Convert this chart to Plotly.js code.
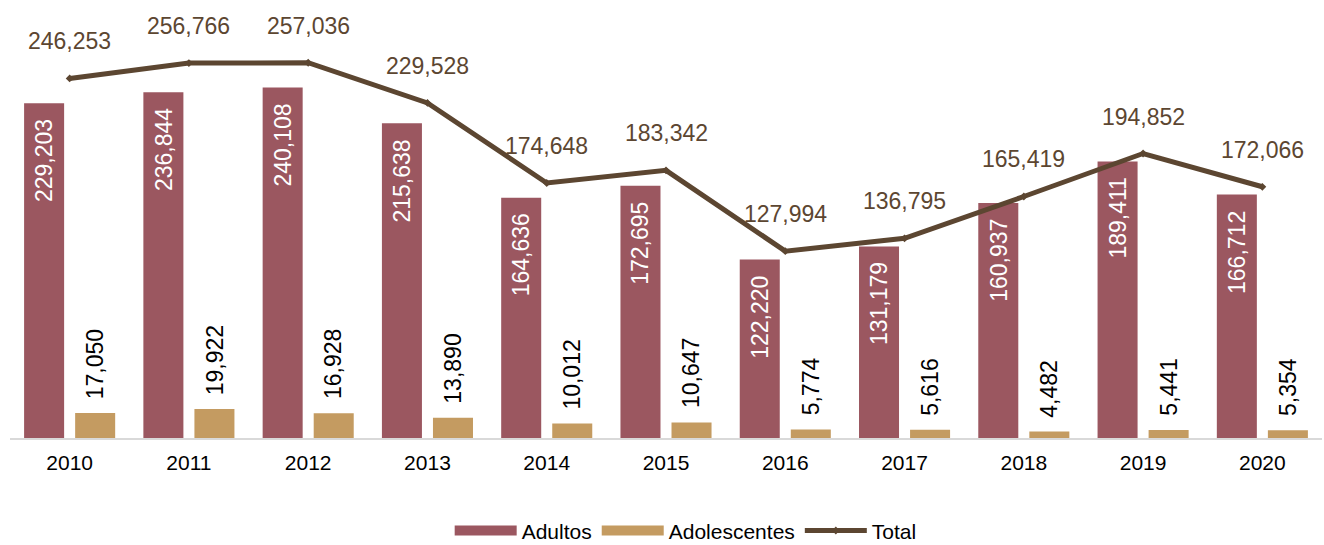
<!DOCTYPE html>
<html>
<head>
<meta charset="utf-8">
<script src="https://cdn.plot.ly/plotly-3.0.1.min.js"></script>
<style>html,body{margin:0;padding:0;background:#fff;}#chart{width:1324px;height:545px;}</style>
</head>
<body>
<div id="chart"></div>
<script>
const years = ['2010','2011','2012','2013','2014','2015','2016','2017','2018','2019','2020'];
const adultos = [229203,236844,240108,215638,164636,172695,122220,131179,160937,189411,166712];
const adolescentes = [17050,19922,16928,13890,10012,10647,5774,5616,4482,5441,5354];
const total = [246253,256766,257036,229528,174648,183342,127994,136795,165419,194852,172066];

const FONT = 'Liberation Sans, Arial, sans-serif';
const C_ADU = '#9B5760';
const C_ADO = '#C49B61';
const C_TOT = '#5C4631';
const fmt = v => v.toLocaleString('en-US');

const traces = [
  {type:'bar', name:'Adultos', legendgroup:'adu', showlegend:false, x:years, y:adultos, marker:{color:C_ADU}, hoverinfo:'x+y'},
  {type:'bar', name:'Adolescentes', legendgroup:'ado', showlegend:false, x:years, y:adolescentes, marker:{color:C_ADO}, hoverinfo:'x+y'},
  {type:'scatter', mode:'lines+markers', name:'Total', legendgroup:'tot', legendrank:3, x:years, y:total,
   line:{color:C_TOT, width:5}, marker:{symbol:'diamond', size:6, color:C_TOT}},
  // legend swatches (wide rectangles) for the bar series
  {type:'scatter', mode:'lines', name:'Adultos', legendgroup:'adu', legendrank:1, x:[null], y:[null], line:{color:C_ADU, width:11}, hoverinfo:'skip'},
  {type:'scatter', mode:'lines', name:'Adolescentes', legendgroup:'ado', legendrank:2, x:[null], y:[null], line:{color:C_ADO, width:11}, hoverinfo:'skip'}
];

// annotations on a category axis use the category serial number
const annotations = [];
years.forEach((yr,i)=>{
  annotations.push({x:i, y:adultos[i], xref:'x', yref:'y', text:fmt(adultos[i]), showarrow:false,
    textangle:-90, yanchor:'top', xanchor:'center', xshift:-25.5, yshift:-14,
    font:{family:FONT, size:23, color:'#ffffff'}});
  annotations.push({x:i, y:adolescentes[i], xref:'x', yref:'y', text:fmt(adolescentes[i]), showarrow:false,
    textangle:-90, yanchor:'bottom', xanchor:'center', xshift:25.5, yshift:12,
    font:{family:FONT, size:23, color:'#000000'}});
  annotations.push({x:i, y:total[i], xref:'x', yref:'y', text:fmt(total[i]), showarrow:false,
    yanchor:'middle', xanchor:'center', yshift:37,
    font:{family:FONT, size:23, color:C_TOT}});
});

const layout = {
  width:1324, height:545,
  margin:{l:10, r:2, t:0, b:107},
  paper_bgcolor:'#ffffff', plot_bgcolor:'#ffffff',
  barmode:'group', bargap:0.144, bargroupgap:0.216,
  font:{family:FONT, color:'#000'},
  xaxis:{type:'category', range:[-0.5,10.5], showgrid:false, zeroline:false, showline:true, linecolor:'#D9D9D9', linewidth:2,
    ticks:'', tickfont:{family:FONT, size:21, color:'#000'}, ticklabelstandoff:5, fixedrange:true, automargin:false},
  yaxis:{range:[0,300000], visible:false, showgrid:false, zeroline:false, fixedrange:true},
  showlegend:true,
  legend:{orientation:'h', x:0.515, xanchor:'center', yref:'container', y:0.026, yanchor:'middle',
    font:{family:FONT, size:21, color:'#000'}, itemwidth:62, traceorder:'grouped', tracegroupgap:30},
  annotations:annotations
};

Plotly.newPlot('chart', traces, layout, {displayModeBar:false, staticPlot:true});
</script>
</body>
</html>
